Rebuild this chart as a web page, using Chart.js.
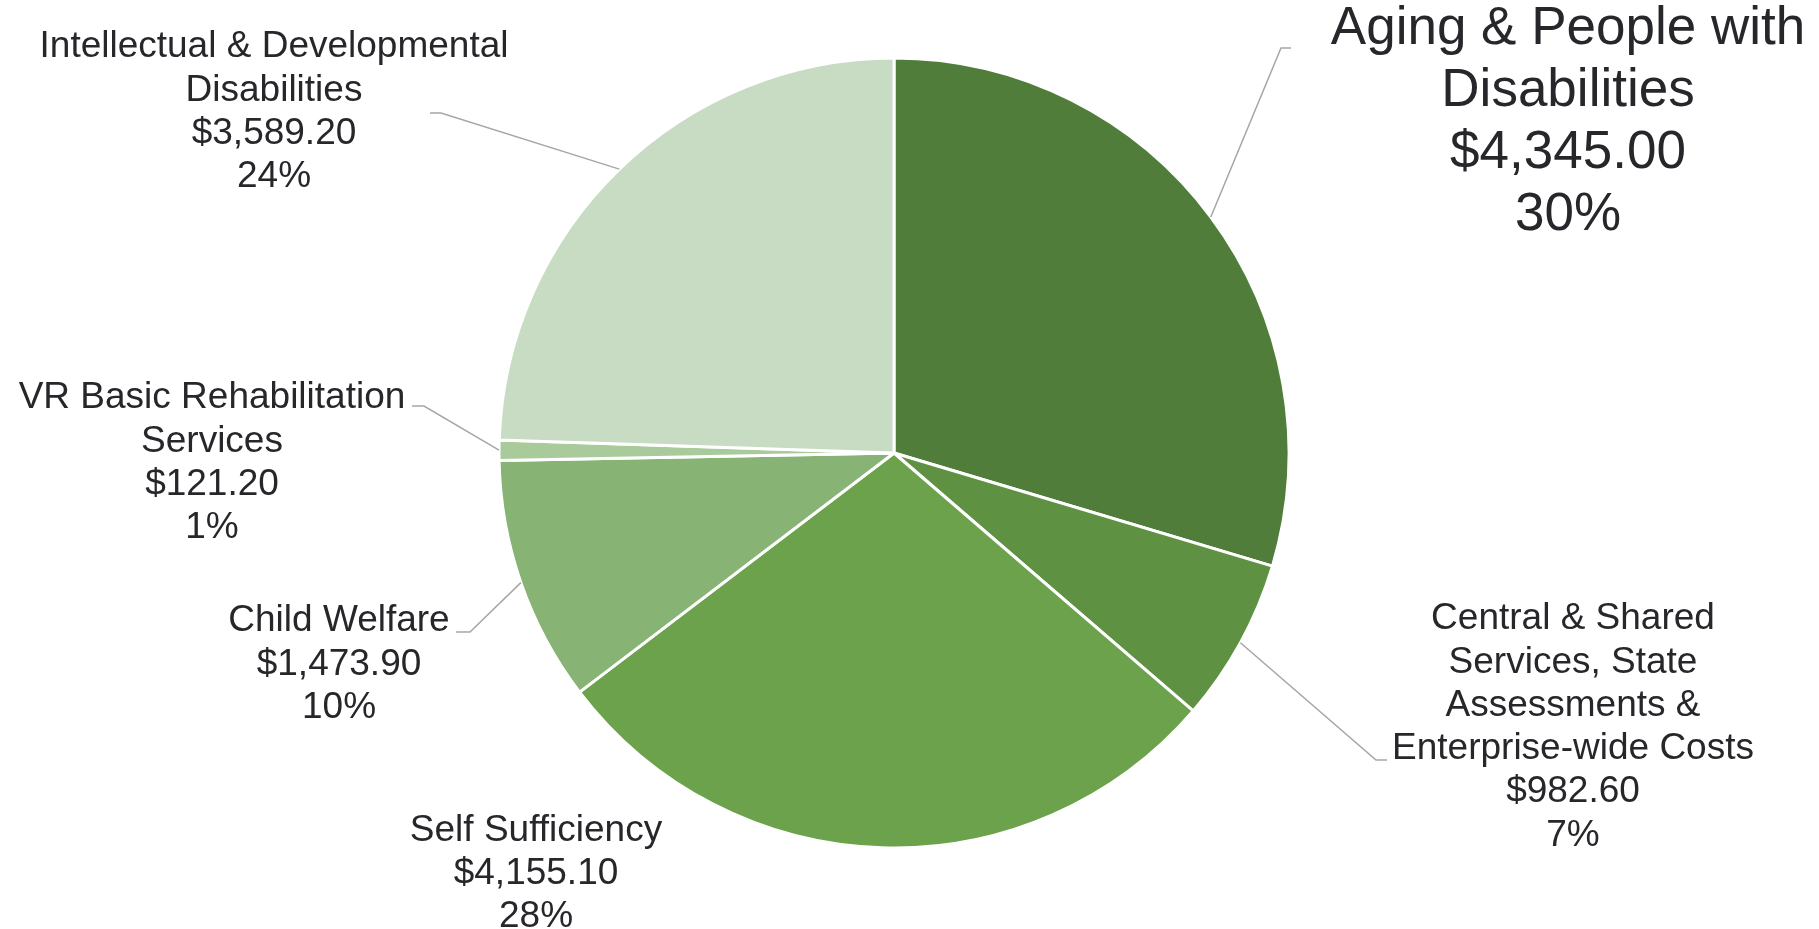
<!DOCTYPE html>
<html><head><meta charset="utf-8">
<script src="https://cdn.jsdelivr.net/npm/chart.js@4"></script>
<style>html,body{margin:0;padding:0;background:#fff;overflow:hidden}#wrap{width:1819px;height:929px;position:relative}</style>
</head><body><div id="wrap"><canvas id="c" width="1819" height="929"></canvas></div>
<script>
// ---- data ----
const categories = [
  ["Aging & People with", "Disabilities"],
  ["Central & Shared", "Services, State", "Assessments &", "Enterprise-wide Costs"],
  ["Self Sufficiency"],
  ["Child Welfare"],
  ["VR Basic Rehabilitation", "Services"],
  ["Intellectual & Developmental", "Disabilities"]
];
const values = [4345.00, 982.60, 4155.10, 1473.90, 121.20, 3589.20];
const sliceColors = ["#507D3A", "#5E9142", "#6BA24B", "#87B474", "#A9CB9B", "#C8DBC3"];

// ---- label layout (positions only) ----
const labelLayout = [
  {cx: 1568, y: 29,  lh: 62, size: 53, line: [[1291, 48], [1281, 48]]},
  {cx: 1573, y: 619, lh: 43.3, size: 37, line: [[1387, 760], [1376, 760]]},
  {cx: 536,  y: 830.5, lh: 43.3, size: 37, line: null},
  {cx: 339,  y: 621, lh: 43.3, size: 37, line: [[456, 632], [470, 632]]},
  {cx: 212,  y: 398, lh: 43.3, size: 37, line: [[412, 406], [424, 406]]},
  {cx: 274,  y: 47,  lh: 43.3, size: 37, line: [[430, 113], [441, 113]]}
];

const total = values.reduce((a, b) => a + b, 0);
const fmtMoney = v => "$" + v.toLocaleString("en-US", {minimumFractionDigits: 2, maximumFractionDigits: 2});

const labelPlugin = {
  id: "pieLabels",
  afterDatasetsDraw(chart) {
    const ctx = chart.ctx;
    const meta = chart.getDatasetMeta(0);
    ctx.save();
    meta.data.forEach((arc, i) => {
      const p = arc.getProps(["x", "y", "startAngle", "endAngle", "outerRadius"], true);
      const mid = (p.startAngle + p.endAngle) / 2;
      const ax = p.x + Math.cos(mid) * p.outerRadius;
      const ay = p.y + Math.sin(mid) * p.outerRadius;
      const L = labelLayout[i];
      if (L.line) {
        ctx.strokeStyle = "#A6A6A6";
        ctx.lineWidth = 1.5;
        ctx.beginPath();
        ctx.moveTo(L.line[0][0], L.line[0][1]);
        ctx.lineTo(L.line[1][0], L.line[1][1]);
        ctx.lineTo(ax, ay);
        ctx.stroke();
      }
      const lines = categories[i].concat([fmtMoney(values[i]), Math.round(values[i] / total * 100) + "%"]);
      ctx.fillStyle = "#27272B";
      ctx.font = L.size + "px 'Liberation Sans', Arial, sans-serif";
      ctx.textAlign = "center";
      ctx.textBaseline = "middle";
      lines.forEach((t, k) => ctx.fillText(t, L.cx, L.y + k * L.lh));
    });
    ctx.restore();
  }
};

new Chart(document.getElementById("c"), {
  type: "pie",
  data: {
    labels: categories.map(c => c.join(" ")),
    datasets: [{
      data: values,
      backgroundColor: sliceColors,
      borderColor: "#FFFFFF",
      borderWidth: 3,
      hoverOffset: 0
    }]
  },
  options: {
    responsive: false,
    animation: false,
    devicePixelRatio: 1,
    layout: {padding: {left: 100, right: 131, top: 56.5, bottom: 79.5}},
    plugins: {legend: {display: false}, tooltip: {enabled: false}}
  },
  plugins: [labelPlugin]
});
</script></body></html>
